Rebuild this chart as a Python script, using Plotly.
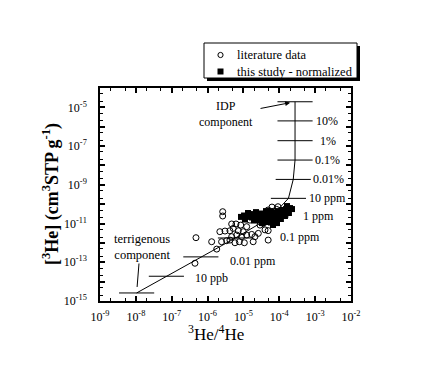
import math
import plotly.graph_objects as go

# ---------------- data ----------------
lit_x = [4.75e-7, 1.30e-6, 1.8e-6, 4.45e-7, 2.64e-6, 2.64e-6, 4.7e-6, 6.2e-6, 8.4e-6, 1.52e-5,
         2.2e-6, 3.06e-6, 4.2e-6, 5.2e-6, 7.2e-6, 9.9e-6, 4.7e-6, 6.5e-6, 8.9e-6, 1.23e-5,
         1.7e-5, 2.46e-6, 3.4e-6, 4.2e-6, 5.8e-6, 7.7e-6, 1.06e-5, 1.87e-5, 2.1e-5, 2.6e-5,
         2.9e-5, 3.6e-5, 4.45e-5, 4.0e-5, 4.9e-5, 4.9e-5, 5.5e-5, 6.8e-5, 7.6e-5, 4.9e-5,
         8.4e-5, 1.05e-4, 3.4e-5, 2.6e-5, 1.23e-5, 6.25e-5, 9.2e-5]
lit_y = [1.86e-12, 1.15e-12, 4.8e-13, 8.9e-14, 4.1e-11, 2.45e-11, 9.5e-12, 9.5e-12, 8.3e-12, 1.5e-11,
         3.8e-12, 4.1e-12, 4.25e-12, 5.6e-12, 4.25e-12, 3.8e-12, 2.1e-12, 2.55e-12, 2.1e-12, 2.55e-12,
         2.75e-12, 1.15e-12, 1.3e-12, 1.4e-12, 1.02e-12, 1.15e-12, 1.02e-12, 1.15e-12, 2.1e-12, 3.1e-12,
         8.3e-12, 1.02e-11, 1.4e-11, 4.7e-12, 4.3e-12, 1.4e-12, 3.4e-11, 4.1e-11, 2.2e-11, 5.0e-11,
         5.4e-11, 3.5e-11, 2.75e-11, 1.5e-11, 6.9e-12, 7.1e-11, 7.4e-11]

study_x = [8.55e-6, 1.04e-5, 1.26e-5, 1.10e-5, 1.52e-5, 1.73e-5, 2.10e-5, 2.39e-5, 1.97e-5, 2.90e-5,
           3.30e-5, 2.72e-5, 3.74e-5, 4.26e-5, 4.84e-5, 3.99e-5, 3.30e-5, 4.84e-5, 5.51e-5, 6.26e-5,
           7.11e-5, 8.09e-5, 9.2e-5, 1.05e-4, 1.19e-4, 1.35e-4, 1.54e-4, 1.75e-4, 1.99e-4, 2.26e-4,
           1.64e-4, 1.27e-4, 9.8e-5, 7.59e-5, 5.87e-5, 6.67e-5, 8.63e-5, 1.11e-4, 1.44e-4, 1.86e-4,
           5.51e-5, 4.26e-5, 2.24e-5, 1.34e-5]
study_y = [2.2e-11, 2.6e-11, 2.2e-11, 1.61e-11, 3.1e-11, 2.05e-11, 2.75e-11, 1.93e-11, 1.43e-11, 3.3e-11,
           2.2e-11, 1.52e-11, 3.1e-11, 2.3e-11, 1.71e-11, 1.2e-11, 1.06e-11, 3.5e-11, 2.45e-11, 1.71e-11,
           3.5e-11, 2.75e-11, 4.4e-11, 3.3e-11, 5.0e-11, 3.9e-11, 5.6e-11, 4.4e-11, 6.3e-11, 5.6e-11,
           8.0e-11, 2.75e-11, 2.05e-11, 1.52e-11, 1.13e-11, 8.4e-12, 1.06e-11, 1.71e-11, 2.45e-11, 3.5e-11,
           4.4e-11, 4.4e-11, 3.9e-11, 3.5e-11]

# mixing curve: terrigenous component -> IDP component
mix_labels = ["", "10 ppb", "0.01 ppm", "0.1 ppm", "1 ppm", "10 ppm",
              "0.01%", "0.1%", "1%", "10%", ""]
mix_x = [1.05e-8, 7.1e-8, 6.5e-7, 6.0e-6, 5.9e-5, 1.8e-4, 2.45e-4, 2.75e-4, 2.75e-4, 2.75e-4, 2.75e-4]
mix_y = [2.6e-15, 1.9e-14, 1.9e-13, 1.8e-12, 2.2e-11, 2.0e-10, 1.9e-9, 1.9e-8, 1.9e-7, 2.0e-6, 1.95e-5]

legend_names = ["literature data", "this study - normalized"]

x_tick_vals = [1e-9, 1e-8, 1e-7, 1e-6, 1e-5, 1e-4, 1e-3, 1e-2]
x_tick_text = ["10<sup>-9</sup>", "10<sup>-8</sup>", "10<sup>-7</sup>", "10<sup>-6</sup>",
               "10<sup>-5</sup>", "10<sup>-4</sup>", "10<sup>-3</sup>", "10<sup>-2</sup>"]
y_tick_vals = [1e-15, 1e-14, 1e-13, 1e-12, 1e-11, 1e-10, 1e-9, 1e-8, 1e-7, 1e-6, 1e-5, 1e-4]
y_tick_text = ["10<sup>-15</sup>", "", "10<sup>-13</sup>", "", "10<sup>-11</sup>", "",
               "10<sup>-9</sup>", "", "10<sup>-7</sup>", "", "10<sup>-5</sup>", ""]

# ---------------- styling ----------------
FONT = "Liberation Serif, Times New Roman, serif"
SEG_HALF = 0.49  # half-length of the fraction tick segments, in decades
label_dx = [0, 9, 10, 25, 12, 1, 0, 0, 5, 1, 0]
label_dy = [0, -2, -4, 1, 1, 0, 0, 0, 0, 0, 0]

# plot area: 100..351 px horizontally, 88..301 px vertically
L, R, T, B = 100, 72, 88, 66
W, H = 423, 367
PW, PH = W - L - R, H - T - B


def px(x):
    return (x - L) / PW


def py(y):
    return (H - B - y) / PH


fig = go.Figure()

seg_x, seg_y = [], []
for xv, yv in zip(mix_x, mix_y):
    seg_x += [xv / 10 ** SEG_HALF, xv * 10 ** SEG_HALF, None]
    seg_y += [yv, yv, None]
fig.add_trace(go.Scatter(x=seg_x, y=seg_y, mode="lines",
                         line=dict(color="black", width=1), showlegend=False, hoverinfo="skip"))
fig.add_trace(go.Scatter(x=mix_x, y=mix_y, mode="lines",
                         line=dict(color="black", width=1), showlegend=False, hoverinfo="skip"))
fig.add_trace(go.Scatter(x=lit_x, y=lit_y, mode="markers", name=legend_names[0], showlegend=False,
                         marker=dict(symbol="circle-open", size=6, color="black",
                                     line=dict(width=1, color="black"))))
fig.add_trace(go.Scatter(x=study_x, y=study_y, mode="markers", name=legend_names[1],
                         showlegend=False, marker=dict(symbol="square", size=6, color="black")))

annotations = []
for i, lab in enumerate(mix_labels):
    if not lab:
        continue
    annotations.append(dict(x=math.log10(mix_x[i]) + SEG_HALF, y=math.log10(mix_y[i]),
                            xref="x", yref="y", text=lab, showarrow=False,
                            xanchor="left", yanchor="middle",
                            xshift=label_dx[i], yshift=label_dy[i],
                            font=dict(family=FONT, size=12, color="black")))

annotations.append(dict(x=-5.486, y=-5.343, xref="x", yref="y", text="IDP<br>component",
                        showarrow=False, font=dict(family=FONT, size=12, color="black"),
                        align="center"))
annotations.append(dict(x=math.log10(mix_x[-1]), y=math.log10(mix_y[-1]), xref="x", yref="y",
                        text="", showarrow=True, arrowhead=2, arrowsize=1, arrowwidth=1,
                        arrowcolor="black", ax=-36, ay=7, standoff=5))
annotations.append(dict(x=-7.829, y=-12.187, xref="x", yref="y", text="terrigenous<br>component",
                        showarrow=False, font=dict(family=FONT, size=12.5, color="black"),
                        align="center"))
annotations.append(dict(x=math.log10(mix_x[0]), y=math.log10(mix_y[0]), xref="x", yref="y",
                        text="", showarrow=True, arrowhead=0, arrowwidth=1,
                        arrowcolor="black", ax=2.5, ay=-31, standoff=6))

# axis titles
annotations.append(dict(x=px(216), y=py(346), xref="paper", yref="paper",
                        text="<sup>3</sup>He/<sup>4</sup>He", showarrow=False,
                        font=dict(family=FONT, size=17, color="black")))
annotations.append(dict(x=px(37), y=py(194), xref="paper", yref="paper", textangle=-90,
                        text="<b>[<sup>3</sup>He] (cm<sup>3</sup>STP g<sup>-1</sup>)</b>",
                        showarrow=False, font=dict(family=FONT, size=18, color="black")))

# legend (drawn box with shadow)
shapes = [
    dict(type="rect", xref="paper", yref="paper", x0=px(207), x1=px(360), y0=py(81), y1=py(46),
         fillcolor="black", line=dict(width=0), layer="above"),
    dict(type="rect", xref="paper", yref="paper", x0=px(204), x1=px(357), y0=py(78), y1=py(43),
         fillcolor="white", line=dict(color="black", width=1), layer="above"),
    dict(type="circle", xref="paper", yref="paper", xsizemode="pixel", ysizemode="pixel",
         xanchor=px(220.5), yanchor=py(55), x0=-2.6, x1=2.6, y0=-2.6, y1=2.6,
         line=dict(color="black", width=1), fillcolor="white", layer="above"),
    dict(type="rect", xref="paper", yref="paper", xsizemode="pixel", ysizemode="pixel",
         xanchor=px(220.5), yanchor=py(71.5), x0=-3, x1=3, y0=-3, y1=3,
         line=dict(color="black", width=0), fillcolor="black", layer="above"),
]
for name, yy in zip(legend_names, [55, 71.5]):
    annotations.append(dict(x=px(235), y=py(yy), xref="paper", yref="paper", text=name,
                            showarrow=False, xanchor="left", yanchor="middle",
                            font=dict(family=FONT, size=12.5, color="black")))

axis_common = dict(type="log", showline=True, linecolor="black", linewidth=1.5, mirror="ticks",
                   ticks="inside", ticklen=5, tickwidth=2, tickcolor="black",
                   showgrid=False, zeroline=False, automargin=False,
                   tickfont=dict(family=FONT, size=12, color="black"),
                   minor=dict(ticks="inside", ticklen=3, tickwidth=1, tickcolor="black",
                              showgrid=False))

fig.update_layout(
    template="none",
    width=W, height=H,
    margin=dict(l=L, r=R, t=T, b=B, autoexpand=False),
    paper_bgcolor="white", plot_bgcolor="white",
    font=dict(family=FONT, color="black"),
    xaxis=dict(axis_common, range=[-9, -2], tickvals=x_tick_vals, ticktext=x_tick_text,
               ticklabelstandoff=4),
    yaxis=dict(axis_common, range=[-15, -4], tickvals=y_tick_vals, ticktext=y_tick_text,
               ticklabelstandoff=9),
    showlegend=False,
    annotations=annotations,
    shapes=shapes,
)

fig.write_html("out.html", config={"displayModeBar": False},
               post_script="document.body.style.margin='0';document.body.style.padding='0';"
                           "document.documentElement.style.overflow='hidden';")
